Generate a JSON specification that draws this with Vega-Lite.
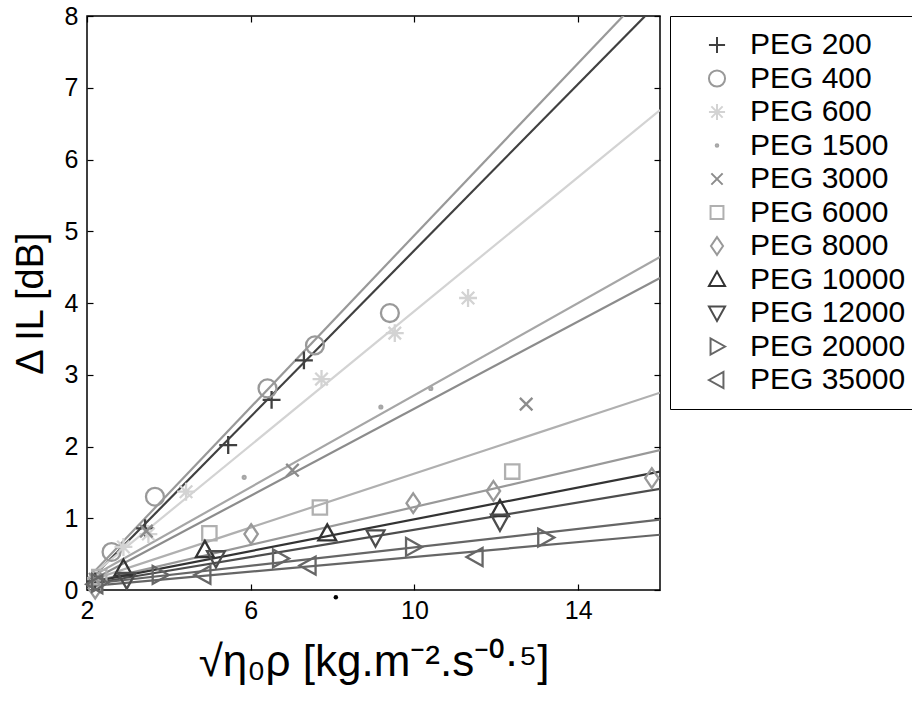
{
  "$schema": "https://vega.github.io/schema/vega-lite/v6.json",
  "autosize": {"type": "none"},
  "width": 573,
  "height": 574,
  "padding": {"left": 87, "top": 16, "right": 252, "bottom": 111},
  "background": "white",
  "config": {
    "view": {"stroke": "black", "strokeWidth": 1.5},
    "font": "Liberation Sans",
    "axis": {"domain": false, "grid": false, "tickColor": "black", "tickWidth": 1.2, "tickSize": 6, "offset": -6, "labelColor": "black", "titleColor": "black", "labelFont": "Liberation Sans", "titleFont": "Liberation Sans", "titleFontWeight": "normal"},
    "legend": {"labelFont": "Liberation Sans"}
  },
  "datasets": {
    "lines": [
      {"series": "PEG 200", "x": 2, "y": 0.1}, {"series": "PEG 200", "x": 16, "y": 8.21},
      {"series": "PEG 400", "x": 2, "y": 0.15}, {"series": "PEG 400", "x": 16, "y": 8.54},
      {"series": "PEG 600", "x": 2, "y": 0.15}, {"series": "PEG 600", "x": 16, "y": 6.69},
      {"series": "PEG 1500", "x": 2, "y": 0.15}, {"series": "PEG 1500", "x": 16, "y": 4.64},
      {"series": "PEG 3000", "x": 2, "y": 0.1}, {"series": "PEG 3000", "x": 16, "y": 4.35},
      {"series": "PEG 6000", "x": 2, "y": 0.12}, {"series": "PEG 6000", "x": 16, "y": 2.75},
      {"series": "PEG 8000", "x": 2, "y": 0.1}, {"series": "PEG 8000", "x": 16, "y": 1.95},
      {"series": "PEG 10000", "x": 2, "y": 0.1}, {"series": "PEG 10000", "x": 16, "y": 1.65},
      {"series": "PEG 12000", "x": 2, "y": 0.08}, {"series": "PEG 12000", "x": 16, "y": 1.41},
      {"series": "PEG 20000", "x": 2, "y": 0.08}, {"series": "PEG 20000", "x": 16, "y": 0.98},
      {"series": "PEG 35000", "x": 2, "y": 0.05}, {"series": "PEG 35000", "x": 16, "y": 0.77}
    ],
    "points": [
      {"series": "PEG 200", "x": 2.2, "y": 0.12}, {"series": "PEG 200", "x": 3.42, "y": 0.86}, {"series": "PEG 200", "x": 5.45, "y": 2.02}, {"series": "PEG 200", "x": 6.51, "y": 2.65}, {"series": "PEG 200", "x": 7.3, "y": 3.2},
      {"series": "PEG 400", "x": 2.6, "y": 0.53}, {"series": "PEG 400", "x": 3.66, "y": 1.3}, {"series": "PEG 400", "x": 6.41, "y": 2.81}, {"series": "PEG 400", "x": 7.57, "y": 3.41}, {"series": "PEG 400", "x": 9.4, "y": 3.86},
      {"series": "PEG 600", "x": 2.89, "y": 0.6}, {"series": "PEG 600", "x": 3.5, "y": 0.78}, {"series": "PEG 600", "x": 4.42, "y": 1.37}, {"series": "PEG 600", "x": 7.73, "y": 2.94}, {"series": "PEG 600", "x": 9.52, "y": 3.58}, {"series": "PEG 600", "x": 11.31, "y": 4.07},
      {"series": "PEG 1500", "x": 2.3, "y": 0.15}, {"series": "PEG 1500", "x": 5.84, "y": 1.57}, {"series": "PEG 1500", "x": 9.18, "y": 2.55}, {"series": "PEG 1500", "x": 10.4, "y": 2.81},
      {"series": "PEG 3000", "x": 2.2, "y": 0.15}, {"series": "PEG 3000", "x": 3.45, "y": 0.82}, {"series": "PEG 3000", "x": 7.02, "y": 1.67}, {"series": "PEG 3000", "x": 12.73, "y": 2.59},
      {"series": "PEG 6000", "x": 2.3, "y": 0.18}, {"series": "PEG 6000", "x": 4.99, "y": 0.79}, {"series": "PEG 6000", "x": 7.69, "y": 1.15}, {"series": "PEG 6000", "x": 12.39, "y": 1.65},
      {"series": "PEG 8000", "x": 2.2, "y": 0.02}, {"series": "PEG 8000", "x": 6.01, "y": 0.78}, {"series": "PEG 8000", "x": 9.97, "y": 1.21}, {"series": "PEG 8000", "x": 11.93, "y": 1.38}, {"series": "PEG 8000", "x": 15.8, "y": 1.56},
      {"series": "PEG 10000", "x": 2.89, "y": 0.3}, {"series": "PEG 10000", "x": 4.88, "y": 0.56}, {"series": "PEG 10000", "x": 7.87, "y": 0.79}, {"series": "PEG 10000", "x": 12.09, "y": 1.13},
      {"series": "PEG 12000", "x": 2.97, "y": 0.14}, {"series": "PEG 12000", "x": 5.15, "y": 0.44}, {"series": "PEG 12000", "x": 9.05, "y": 0.73}, {"series": "PEG 12000", "x": 12.09, "y": 0.95},
      {"series": "PEG 20000", "x": 2.3, "y": 0.1}, {"series": "PEG 20000", "x": 3.78, "y": 0.21}, {"series": "PEG 20000", "x": 6.72, "y": 0.44}, {"series": "PEG 20000", "x": 9.97, "y": 0.6}, {"series": "PEG 20000", "x": 13.2, "y": 0.73},
      {"series": "PEG 35000", "x": 2.2, "y": 0.08}, {"series": "PEG 35000", "x": 4.84, "y": 0.21}, {"series": "PEG 35000", "x": 7.41, "y": 0.34}, {"series": "PEG 35000", "x": 11.49, "y": 0.46}
    ],
    "stray": [{"x": 8.08, "y": -0.1}]
  },
  "layer": [
    {
      "data": {"name": "lines"},
      "mark": {"type": "line", "clip": true, "strokeWidth": 2.2},
      "encoding": {
        "x": {"field": "x", "type": "quantitative", "scale": {"domain": [2, 16], "nice": false, "zero": false},
              "axis": {"orient": "bottom", "values": [2, 6, 10, 14], "labelPadding": 8, "labelFontSize": 25, "labelFlush": false,
                       "title": "√η₀ρ [kg.m⁻².s⁻⁰·⁵]", "titleFontSize": 44, "titlePadding": 17}},
        "y": {"field": "y", "type": "quantitative", "scale": {"domain": [0, 8], "nice": false, "zero": false},
              "axis": {"orient": "left", "values": [0, 1, 2, 3, 4, 5, 6, 7, 8], "labelPadding": 9, "labelFontSize": 25, "labelFlush": false,
                       "title": "Δ IL [dB]", "titleFontSize": 38, "titlePadding": 14}},
        "stroke": {"field": "series", "type": "nominal", "legend": null,
                  "scale": {"domain": ["PEG 35000", "PEG 20000", "PEG 12000", "PEG 10000", "PEG 8000", "PEG 6000", "PEG 3000", "PEG 1500", "PEG 600", "PEG 400", "PEG 200"],
                            "range": ["#666666", "#666666", "#4d4d4d", "#333333", "#999999", "#b0b0b0", "#8c8c8c", "#a6a6a6", "#d3d3d3", "#999999", "#404040"]}},
        "detail": {"field": "series"}
      }
    },
    {
      "data": {"name": "points"},
      "mark": {"type": "point", "filled": false, "strokeWidth": 2.3, "size": 320, "opacity": 1},
      "encoding": {
        "x": {"field": "x", "type": "quantitative", "axis": null},
        "y": {"field": "y", "type": "quantitative", "axis": null},
        "color": {"field": "series", "type": "nominal",
                  "scale": {"domain": ["PEG 200", "PEG 400", "PEG 600", "PEG 1500", "PEG 3000", "PEG 6000", "PEG 8000", "PEG 10000", "PEG 12000", "PEG 20000", "PEG 35000"],
                            "range": ["#404040", "#999999", "#d3d3d3", "#a6a6a6", "#8c8c8c", "#b0b0b0", "#999999", "#333333", "#4d4d4d", "#666666", "#666666"]},
                  "legend": {"title": null, "orient": "right", "offset": 9, "strokeColor": "black", "padding": 14, "labelFontSize": 30, "labelColor": "black", "labelLimit": 400, "symbolSize": 260, "symbolStrokeWidth": 2, "rowPadding": 3.5, "labelOffset": 18, "symbolOffset": 18, "fillColor": "white"}},
        "shape": {"field": "series", "type": "nominal",
                  "scale": {"domain": ["PEG 200", "PEG 400", "PEG 600", "PEG 1500", "PEG 3000", "PEG 6000", "PEG 8000", "PEG 10000", "PEG 12000", "PEG 20000", "PEG 35000"],
                            "range": ["M-1,0L1,0M0,-1L0,1", "M1,0A1,1,0,1,1,-1,0A1,1,0,1,1,1,0Z", "M-1,0L1,0M0,-1L0,1M-0.7,-0.7L0.7,0.7M-0.7,0.7L0.7,-0.7", "M0.16,0A0.16,0.16,0,1,1,-0.16,0A0.16,0.16,0,1,1,0.16,0Z", "M-0.7,-0.7L0.7,0.7M-0.7,0.7L0.7,-0.7", "M-0.8,-0.8L0.8,-0.8L0.8,0.8L-0.8,0.8Z", "M0,-1.1L0.75,0L0,1.1L-0.75,0Z", "M0,-1L1,0.8L-1,0.8Z", "M0,1L1,-0.8L-1,-0.8Z", "M1,0L-0.8,-1L-0.8,1Z", "M-1,0L0.8,-1L0.8,1Z"]}}
      }
    },
    {
      "data": {"name": "stray"},
      "mark": {"type": "point", "filled": true, "color": "black", "size": 20, "opacity": 1, "clip": false},
      "encoding": {
        "x": {"field": "x", "type": "quantitative", "axis": {"orient": "top", "values": [2, 6, 10, 14], "labels": false, "title": null}},
        "y": {"field": "y", "type": "quantitative", "axis": {"orient": "right", "values": [0, 1, 2, 3, 4, 5, 6, 7, 8], "labels": false, "title": null}}
      }
    }
  ],
  "resolve": {"axis": {"x": "independent", "y": "independent"}}
}
